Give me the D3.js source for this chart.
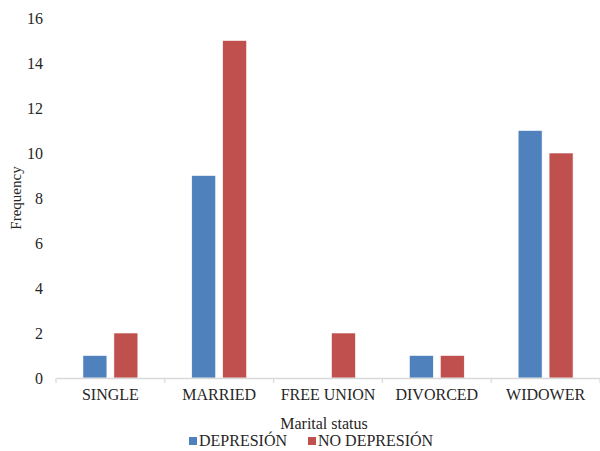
<!DOCTYPE html>
<html><head><meta charset="utf-8">
<script src="https://cdn.jsdelivr.net/npm/d3@7"></script>
<style>body{margin:0;background:#fff;}</style>
</head><body>
<svg id="c" width="600" height="451"></svg>
<script>
const categories = ["SINGLE","MARRIED","FREE UNION","DIVORCED","WIDOWER"];
const seriesNames = ["DEPRESIÓN","NO DEPRESIÓN"];
const depresion = [1,9,0,1,11];
const noDepresion = [2,15,2,1,10];
const yTicks = [0,2,4,6,8,10,12,14,16];
const colors = ["#4F81BD","#C0504D"];
const FONT = "Liberation Serif";

const svg = d3.select("#c");
const m = {l:56, r:600, t:18, b:378};
const x = d3.scaleBand().domain(categories).range([m.l, m.r]).paddingInner(0).paddingOuter(0);
const xs = d3.scaleBand().domain(seriesNames).range([0, x.bandwidth()]).paddingInner(0.226).paddingOuter(0.87);
const y = d3.scaleLinear().domain([0,16]).range([m.b, m.t]);

const data = categories.map((c,i)=>({c, v:[depresion[i], noDepresion[i]]}));
const g = svg.append("g");
g.selectAll("g.cat").data(data).join("g").attr("transform", d=>`translate(${x(d.c)},0)`)
 .selectAll("rect").data(d=>d.v.map((v,j)=>({s:seriesNames[j], v, j}))).join("rect")
 .attr("x", d=>xs(d.s)).attr("width", xs.bandwidth())
 .attr("y", d=>y(d.v)).attr("height", d=>m.b - y(d.v))
 .attr("fill", d=>colors[d.j])
 .attr("stroke","#fff").attr("stroke-width",0.6);

// y axis
const ya = svg.append("g").attr("transform",`translate(${m.l},0)`)
 .call(d3.axisLeft(y).tickValues(yTicks).tickSize(0).tickPadding(13));
ya.attr("font-family",FONT).attr("font-size",16);
ya.select(".domain").remove();
ya.selectAll("text").attr("fill","#262626");

// x axis
const xa = svg.append("g").attr("transform",`translate(0,${m.b})`)
 .call(d3.axisBottom(x).tickSize(0).tickPadding(11));
xa.attr("font-family",FONT).attr("font-size",16);
xa.select(".domain").attr("stroke","#D9D9D9").attr("stroke-width",1.5);
xa.selectAll("text").attr("fill","#262626");
const bounds = categories.map(c=>x(c)).concat([x.range()[1]]);
svg.append("g").selectAll("line").data(bounds).join("line")
 .attr("x1",d=>d).attr("x2",d=>d).attr("y1",m.b).attr("y2",m.b+5)
 .attr("stroke","#D9D9D9").attr("stroke-width",1.2);

// titles
svg.append("text").attr("x",(m.l+m.r)/2 - 4).attr("y",429).attr("text-anchor","middle")
 .attr("font-family",FONT).attr("font-size",16).attr("fill","#262626").text("Marital status");
svg.append("text").attr("transform",`translate(21,${(m.t+m.b)/2}) rotate(-90)`).attr("text-anchor","middle")
 .attr("font-family",FONT).attr("font-size",15).attr("fill","#262626").text("Frequency");

// legend
const leg = svg.append("g");
const lx = [189, 308];
seriesNames.forEach((s,i)=>{
  leg.append("rect").attr("x",lx[i]).attr("y",437).attr("width",8).attr("height",8).attr("fill",colors[i]);
  leg.append("text").attr("x",lx[i]+10).attr("y",446).attr("font-family",FONT).attr("font-size",16).attr("fill","#262626").text(s);
});
</script>
</body></html>
